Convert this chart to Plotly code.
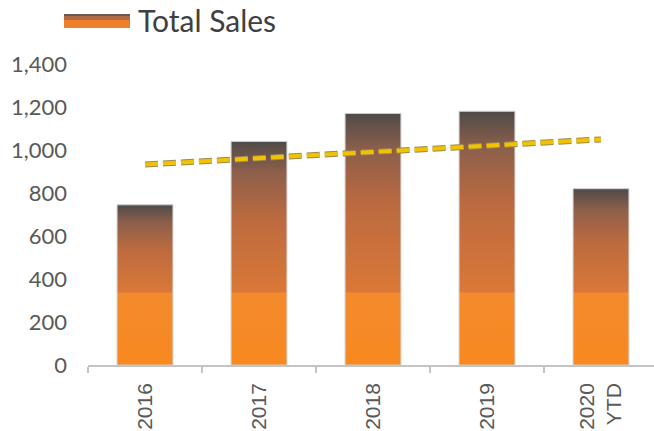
import numpy as np
import plotly.graph_objects as go

categories = ["2016", "2017", "2018", "2019", "2020<br>YTD"]
sales = [745, 1040, 1170, 1180, 820]
y_ticks = [0, 200, 400, 600, 800, 1000, 1200, 1400]
y_tick_labels = ["0", "200", "400", "600", "800", "1,000", "1,200", "1,400"]
series_name = "Total Sales"

BAR_W = 0.49
STEP = 335  # value where the bright orange band ends

fig = go.Figure()
xs = list(range(len(categories)))

for i, v in zip(xs, sales):
    f = min(STEP / v, 0.99)
    g = 1 - f
    fig.add_trace(go.Scatter(
        x=[i - BAR_W / 2, i + BAR_W / 2, i + BAR_W / 2, i - BAR_W / 2, i - BAR_W / 2],
        y=[0, 0, v, v, 0],
        mode="lines",
        fill="toself",
        line=dict(color="#cfcfcf", width=1),
        fillgradient=dict(
            type="vertical",
            start=0, stop=v,
            colorscale=[[0, "#f8891f"], [f, "#f38a2c"], [f + 0.004, "#da7838"],
                        [f + g * 0.5, "#bb6a3f"], [f + g * 0.8, "#8c5f4b"],
                        [1, "#4f4b48"]],
        ),
        showlegend=False,
        hoverinfo="skip",
    ))

# linear trendline
coef = np.polyfit(xs, sales, 1)
trend = np.polyval(coef, xs)
fig.add_trace(go.Scatter(x=xs, y=trend, mode="lines",
                         line=dict(color="#9a8a50", width=6, dash="13px,5px"),
                         showlegend=False, hoverinfo="skip"))
fig.add_trace(go.Scatter(x=xs, y=trend, mode="lines",
                         line=dict(color="#f2c200", width=4, dash="13px,5px"),
                         showlegend=False, hoverinfo="skip"))

W, H = 654, 431
L, R, T, B = 88, 0, 64, 66
pw, ph = W - L - R, H - T - B

def px_x(p):
    return (p - L) / pw

def px_y(p):
    return (H - B - p) / ph

# legend swatch (manual)
fig.add_shape(type="rect", xref="paper", yref="paper",
              x0=px_x(64), x1=px_x(130), y0=px_y(28), y1=px_y(14),
              fillcolor="#ee7f2a", line=dict(width=0), layer="above")
fig.add_shape(type="rect", xref="paper", yref="paper",
              x0=px_x(64), x1=px_x(130), y0=px_y(20), y1=px_y(14),
              fillcolor="#b06a45", line=dict(width=0), layer="above")
fig.add_shape(type="rect", xref="paper", yref="paper",
              x0=px_x(64), x1=px_x(130), y0=px_y(16), y1=px_y(14),
              fillcolor="#6a5a50", line=dict(width=0), layer="above")
fig.add_annotation(xref="paper", yref="paper", x=px_x(136), y=px_y(20),
                   xanchor="left", yanchor="middle", showarrow=False,
                   text=series_name, font=dict(family="Lato", size=30, color="#404040"))

fig.update_layout(
    width=W, height=H,
    margin=dict(l=L, r=R, t=T, b=B),
    paper_bgcolor="white", plot_bgcolor="white",
    showlegend=False,
    xaxis=dict(
        range=[-0.5, -0.5 + pw / 114.0],
        automargin=False,
        tickmode="array", tickvals=xs, ticktext=categories,
        tickangle=-90, ticks="",
        tickfont=dict(family="Liberation Sans", size=21, color="#595959"),
        showgrid=False, zeroline=False,
        showline=True, linecolor="#c4c4c4", linewidth=1.5,
        ticklabelstandoff=8,
        minor=dict(tickmode="array", tickvals=[i - 0.5 for i in xs] + [len(xs) - 0.5],
                   ticks="outside", ticklen=6, tickcolor="#c4c4c4", tickwidth=1.5,
                   showgrid=False),
    ),
    yaxis=dict(
        range=[0, 1400],
        automargin=False,
        tickmode="array", tickvals=y_ticks, ticktext=y_tick_labels,
        tickfont=dict(family="Lato", size=22, color="#595959"),
        showgrid=False, zeroline=False, showline=False,
        ticklabelstandoff=20,
    ),
)

fig.write_html("out.html", config={"displayModeBar": False},
               post_script="document.body.style.margin='0';document.body.style.overflow='hidden';")
